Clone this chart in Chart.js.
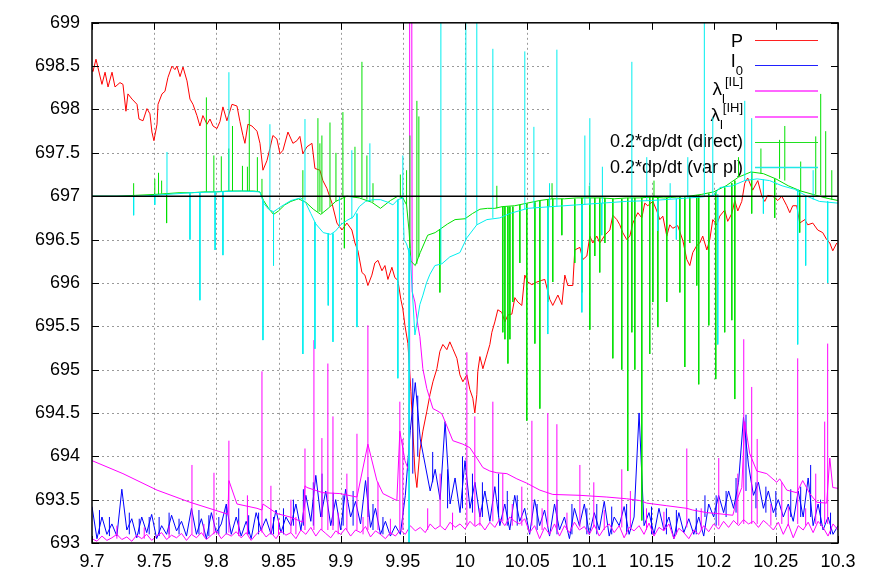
<!DOCTYPE html>
<html><head><meta charset="utf-8">
<script src="https://cdn.jsdelivr.net/npm/chart.js@4/dist/chart.umd.min.js"></script>
<style>html,body{margin:0;padding:0;background:#fff}canvas{display:block}</style>
</head><body>
<canvas id="c" width="872" height="580"></canvas>
<script>
// ---------- axis ticks ----------
const xTickValues = [9.7,9.75,9.8,9.85,9.9,9.95,10,10.05,10.1,10.15,10.2,10.25,10.3];
const xTickLabels = ['9.7','9.75','9.8','9.85','9.9','9.95','10','10.05','10.1','10.15','10.2','10.25','10.3'];
const yTickValues = [693,693.5,694,694.5,695,695.5,696,696.5,697,697.5,698,698.5,699];
const yTickLabels = ['693','693.5','694','694.5','695','695.5','696','696.5','697','697.5','698','698.5','699'];

// ---------- series names ----------
const seriesNames = ['P','I0','λl[IL]','λl[IH]','0.2*dp/dt (direct)','0.2*dp/dt (var pl)'];

// ---------- P (red) [x, P] ----------
const pressure = [[9.7000,698.45],[9.7008,698.44],[9.7032,698.58],[9.7080,698.29],[9.7105,698.43],[9.7129,698.26],[9.7161,698.43],[9.7185,698.26],[9.7225,698.31],[9.7249,698.29],
[9.7273,697.98],[9.7289,698.18],[9.7322,698.12],[9.7362,698.06],[9.7378,697.89],[9.7410,697.87],[9.7442,698.01],[9.7466,697.95],[9.7482,697.74],[9.7498,697.64],
[9.7523,697.83],[9.7531,698.06],[9.7563,698.18],[9.7587,698.21],[9.7611,698.37],[9.7643,698.50],[9.7667,698.46],[9.7683,698.50],[9.7708,698.38],[9.7732,698.49],
[9.7764,698.33],[9.7788,698.12],[9.7812,698.06],[9.7844,697.93],[9.7868,697.81],[9.7892,697.93],[9.7925,697.83],[9.7949,697.89],[9.7973,697.81],[9.8005,697.78],
[9.8029,697.86],[9.8053,698.03],[9.8085,697.87],[9.8126,698.06],[9.8166,698.04],[9.8190,697.86],[9.8214,697.70],[9.8230,697.61],[9.8254,697.83],[9.8286,697.81],
[9.8327,697.75],[9.8351,697.61],[9.8375,697.30],[9.8407,697.41],[9.8431,697.55],[9.8455,697.70],[9.8487,697.66],[9.8512,697.49],[9.8536,697.53],[9.8576,697.74],
[9.8616,697.61],[9.8648,697.64],[9.8672,697.69],[9.8696,697.49],[9.8729,697.57],[9.8769,697.61],[9.8793,697.32],[9.8833,697.30],[9.8857,697.18],[9.8889,697.09],
[9.8930,696.92],[9.8970,696.69],[9.9010,696.61],[9.9050,696.69],[9.9090,696.61],[9.9115,696.46],[9.9139,696.37],[9.9171,696.12],[9.9195,696.09],[9.9219,695.97],
[9.9251,696.09],[9.9275,696.23],[9.9300,696.26],[9.9332,696.14],[9.9356,696.20],[9.9380,696.04],[9.9412,696.18],[9.9436,696.06],[9.9460,696.03],[9.9484,695.81],
[9.9500,695.70],[9.9517,695.51],[9.9541,695.30],[9.9565,694.75],[9.9581,694.29],[9.9597,693.83],[9.9613,693.64],[9.9637,694.06],[9.9661,694.29],[9.9693,694.52],
[9.9718,694.71],[9.9742,694.86],[9.9774,695.01],[9.9798,695.21],[9.9822,695.29],[9.9854,695.23],[9.9878,695.32],[9.9902,695.24],[9.9935,695.13],[9.9959,694.94],
[9.9983,694.86],[10.0015,694.94],[10.0039,694.77],[10.0063,694.67],[10.0079,694.50],[10.0095,694.71],[10.0103,694.98],[10.0120,695.15],[10.0144,695.01],[10.0176,695.17],
[10.0200,695.29],[10.0216,695.43],[10.0240,695.55],[10.0264,695.69],[10.0296,695.66],[10.0321,695.55],[10.0345,695.63],[10.0377,695.64],[10.0401,695.83],[10.0425,695.78],
[10.0457,695.74],[10.0481,696.09],[10.0505,696.01],[10.0538,695.98],[10.0578,696.01],[10.0618,696.03],[10.0642,696.04],[10.0682,695.81],[10.0706,695.74],[10.0747,695.86],
[10.0779,695.75],[10.0803,696.09],[10.0827,695.97],[10.0867,695.97],[10.0883,696.38],[10.0924,696.41],[10.0948,696.27],[10.0980,696.31],[10.1004,696.54],[10.1028,696.46],
[10.1060,696.54],[10.1084,696.46],[10.1125,696.55],[10.1165,696.61],[10.1189,696.78],[10.1221,696.73],[10.1245,696.67],[10.1269,696.58],[10.1301,696.50],[10.1326,696.54],
[10.1350,696.69],[10.1390,696.81],[10.1422,696.75],[10.1446,696.92],[10.1470,696.89],[10.1511,696.94],[10.1543,696.83],[10.1567,696.73],[10.1591,696.77],[10.1623,696.54],
[10.1647,696.67],[10.1671,696.63],[10.1711,696.66],[10.1752,696.49],[10.1784,696.27],[10.1808,696.20],[10.1832,696.35],[10.1864,696.43],[10.1888,696.46],[10.1912,696.54],
[10.1945,696.38],[10.1969,696.50],[10.1993,696.73],[10.2025,696.67],[10.2049,696.77],[10.2089,696.84],[10.2113,696.71],[10.2146,696.80],[10.2170,696.95],[10.2194,696.83],
[10.2226,696.94],[10.2250,697.15],[10.2274,697.21],[10.2314,697.07],[10.2355,697.18],[10.2387,697.00],[10.2411,696.94],[10.2435,697.01],[10.2475,697.00],[10.2516,696.95],
[10.2548,697.00],[10.2588,696.89],[10.2612,696.81],[10.2636,696.89],[10.2668,696.89],[10.2692,696.69],[10.2733,696.73],[10.2757,696.67],[10.2797,696.69],[10.2837,696.61],
[10.2877,696.58],[10.2909,696.50],[10.2934,696.46],[10.2958,696.37],[10.2990,696.46]];

// ---------- sample grid for the noisy series ----------
const sampleX = [9.700,9.704,9.708,9.712,9.716,9.720,9.724,9.728,9.732,9.736,
9.740,9.744,9.748,9.752,9.756,9.760,9.764,9.768,9.772,9.776,
9.780,9.784,9.788,9.792,9.796,9.800,9.804,9.808,9.812,9.816,
9.820,9.824,9.828,9.832,9.836,9.840,9.844,9.848,9.852,9.856,
9.860,9.864,9.868,9.872,9.876,9.880,9.884,9.888,9.892,9.896,
9.900,9.904,9.908,9.912,9.916,9.920,9.924,9.928,9.932,9.936,
9.940,9.944,9.948,9.952,9.956,9.960,9.964,9.968,9.972,9.976,
9.980,9.984,9.988,9.992,9.996,10.000,10.004,10.008,10.012,10.016,
10.020,10.024,10.028,10.032,10.036,10.040,10.044,10.048,10.052,10.056,
10.060,10.064,10.068,10.072,10.076,10.080,10.084,10.088,10.092,10.096,
10.100,10.104,10.108,10.112,10.116,10.120,10.124,10.128,10.132,10.136,
10.140,10.144,10.148,10.152,10.156,10.160,10.164,10.168,10.172,10.176,
10.180,10.184,10.188,10.192,10.196,10.200,10.204,10.208,10.212,10.216,
10.220,10.224,10.228,10.232,10.236,10.240,10.244,10.248,10.252,10.256,
10.260,10.264,10.268,10.272,10.276,10.280,10.284,10.288,10.292,10.296,
10.300];

// ---------- I0 (blue) on sampleX ----------
const i0Values = [693.42,693.05,693.30,693.10,693.22,693.08,693.62,693.15,693.28,693.06,
693.30,693.12,693.33,693.05,693.20,693.10,693.32,693.14,693.25,693.08,
693.40,693.10,693.28,693.05,693.35,693.12,693.22,693.45,693.10,693.30,
693.08,693.25,693.05,693.35,693.15,693.28,693.10,693.38,693.12,693.30,
693.20,693.45,693.15,693.55,693.25,693.78,693.30,693.60,693.20,693.50,
693.15,693.62,693.30,693.48,693.22,693.72,693.18,693.40,693.10,693.25,
693.08,693.20,693.10,693.55,694.30,694.85,694.20,693.90,693.60,693.85,
693.50,694.40,693.45,693.75,693.35,693.95,693.40,693.70,693.30,693.60,
693.25,693.65,693.20,693.45,693.15,693.55,693.25,693.40,693.10,693.50,
693.20,693.38,693.08,693.45,693.15,693.30,693.05,693.40,693.20,693.45,
693.10,693.35,693.15,693.48,693.08,693.30,693.20,693.42,693.10,693.30,
694.50,693.20,693.35,693.10,693.40,693.15,693.30,693.05,693.35,693.12,
693.28,693.10,693.30,693.08,693.45,693.30,693.55,693.35,693.60,693.40,
693.70,694.45,693.90,693.55,693.70,693.40,693.60,693.35,693.50,693.30,
693.45,693.25,693.60,693.30,693.75,693.20,693.45,693.15,693.30,693.10,
693.20];
// I0 peaks [x, from, to]
const i0Peaks = [[9.7060,693.10,693.38],[9.7140,693.08,693.30],[9.7300,693.10,693.35],[9.7380,693.10,693.28],[9.7460,693.10,693.30],[9.7540,693.08,693.30],
[9.7620,693.10,693.35],[9.7700,693.10,693.28],[9.7860,693.10,693.38],[9.7940,693.08,693.32],[9.8020,693.10,693.30],[9.8080,693.10,693.42],[9.8180,693.10,693.40],
[9.8260,693.10,693.32],[9.8340,693.10,693.35],[9.8460,693.10,693.30],[9.8540,693.10,693.40],[9.8620,693.20,693.50],[9.8700,693.20,693.62],[9.8780,693.20,693.70],
[9.8850,693.30,693.80],[9.8940,693.20,693.58],[9.9020,693.20,693.55],[9.9100,693.20,693.60],[9.9220,693.30,693.76],[9.9260,693.15,693.45],[9.9340,693.10,693.30],
[9.9580,693.80,694.90],[9.9620,694.00,694.70],[9.9740,693.70,694.05],[9.9860,693.40,693.85],[9.9980,693.40,694.00],[10.0060,693.35,693.80],[10.0140,693.30,693.70],
[10.0270,693.30,693.80],[10.0340,693.20,693.60],[10.0420,693.20,693.55],[10.0580,693.15,693.45],[10.0740,693.10,693.50],[10.0860,693.10,693.45],[10.0980,693.10,693.40],
[10.1060,693.10,693.45],[10.1180,693.10,693.42],[10.1300,693.10,693.45],[10.1500,693.10,693.42],[10.1620,693.10,693.40],[10.1700,693.10,693.38],[10.1860,693.10,693.40],
[10.1930,693.30,693.55],[10.2020,693.20,693.55],[10.2100,693.30,693.60],[10.2180,693.35,693.75],[10.2260,693.60,694.48],[10.2340,693.40,693.70],[10.2420,693.35,693.65],
[10.2500,693.30,693.60],[10.2620,693.30,693.62],[10.2700,693.30,693.65],[10.2780,693.30,693.90],[10.2860,693.20,693.50],[10.2940,693.10,693.35]];

// ---------- lambda_l^[IL] (magenta, noisy) on sampleX ----------
const lamILValues = [693.05,693.02,693.08,693.03,693.06,693.10,693.04,693.07,693.02,693.09,
693.05,693.10,693.03,693.08,693.12,693.04,693.09,693.06,693.11,693.03,
693.10,693.06,693.12,693.04,693.09,693.14,693.05,693.11,693.08,693.13,
693.06,693.12,693.03,693.10,693.15,693.07,693.12,693.05,693.14,693.09,
693.12,693.05,693.15,693.10,693.18,693.08,693.16,693.11,693.06,693.14,
693.10,693.17,693.08,693.15,693.12,693.19,693.07,693.14,693.10,693.05,
693.12,693.08,693.15,693.10,693.20,693.14,693.18,693.12,693.22,693.16,
693.20,693.15,693.24,693.18,693.22,693.16,693.25,693.19,693.23,693.15,
693.24,693.18,693.28,693.20,693.30,693.25,693.22,693.28,693.12,693.20,
693.05,693.18,693.10,693.22,693.08,693.20,693.12,693.24,693.15,693.19,
693.10,693.21,693.08,693.17,693.22,693.12,693.20,693.06,693.18,693.14,
693.20,693.10,693.23,693.08,693.18,693.14,693.22,693.05,693.17,693.12,
693.05,693.15,693.10,693.20,693.13,693.22,693.16,693.25,693.18,693.26,
693.20,693.27,693.22,693.25,693.18,693.26,693.21,693.15,693.24,693.10,
693.22,693.06,693.20,693.15,693.24,693.12,693.25,693.18,693.08,693.22,
693.15];
// lambda_l^[IL] peaks [x, from, to]
const lamILPeaks = [[9.7200,693.05,693.20],[9.7420,693.05,693.18],[9.7620,693.06,693.20],[9.7900,693.08,693.22],[9.8180,693.08,693.25],[9.8500,693.10,693.28],
[9.8640,693.10,693.30],[9.8980,693.10,693.35],[9.9180,693.10,693.30],[9.9400,693.10,693.28],[9.9700,693.15,693.40],[9.9900,693.15,693.35],[10.0120,693.20,693.40],
[10.0380,693.20,693.45],[10.0620,693.15,693.40],[10.0820,693.15,693.35],[10.1120,693.15,693.38],[10.1460,693.15,693.40],[10.1600,693.15,693.36],[10.1900,693.15,693.40],
[10.2460,693.20,693.45],[10.2600,693.20,693.42],[10.2740,693.20,693.40],
[9.7804,693.10,693.90],[9.7981,693.10,693.81],[9.8101,693.12,694.18],[9.8250,693.10,693.55],[9.8367,693.12,694.98],
[9.8439,693.12,693.66],[9.8600,693.12,693.50],[9.8713,693.15,694.09],[9.8785,693.15,695.34],[9.8849,693.15,694.21],[9.8897,693.15,695.07],
[9.8938,693.15,694.46],[9.9050,693.15,693.80],[9.9131,693.15,694.26],[9.9219,693.15,695.51],[9.9300,693.15,693.70],[9.9476,693.15,694.63],
[9.9500,693.15,694.20],[9.9800,693.20,693.80],[10.0015,693.20,695.20],[10.0079,693.20,694.46],[10.0224,693.25,694.63],[10.0304,693.25,693.80],
[10.0457,693.20,693.65],[10.0538,693.20,694.41],[10.0666,693.18,694.50],[10.0739,693.18,694.37],[10.0924,693.18,693.90],[10.1036,693.18,693.70],
[10.1261,693.18,693.85],[10.1330,693.18,693.60],[10.1784,693.18,694.09],[10.2041,693.20,693.98],[10.2194,693.22,693.80],[10.2242,693.22,695.35],
[10.2306,693.22,694.80],[10.2350,693.22,694.20],[10.2548,693.22,693.70],[10.2676,693.22,695.13],[10.2821,693.22,693.80],[10.2893,693.22,694.40],
[10.2917,693.22,695.30]];

// ---------- lambda_l^[IH] (magenta envelope) [x, value] ----------
const lamIH = [[9.7000,693.95],[9.7249,693.80],[9.7523,693.61],[9.7788,693.47],[9.8053,693.35],[9.8093,693.33],[9.8101,693.72],[9.8166,693.45],
[9.8327,693.40],[9.8367,693.38],[9.8375,693.45],[9.8487,693.34],[9.8592,693.30],[9.8696,693.24],[9.8713,693.66],[9.8729,693.64],[9.8857,693.58],
[9.8994,693.57],[9.9131,693.53],[9.9219,694.14],[9.9291,693.72],[9.9340,693.57],[9.9452,693.49],[9.9476,694.29],[9.9517,693.95],[9.9549,693.83],
[9.9552,694.60],[9.9555,699.20],[9.9572,699.20],[9.9575,695.90],[9.9597,695.78],[9.9621,695.51],[9.9637,695.38],[9.9661,695.01],[9.9693,694.78],
[9.9742,694.55],[9.9782,694.52],[9.9814,694.49],[9.9854,694.35],[9.9902,694.18],[9.9983,694.14],[10.0039,694.10],[10.0095,693.98],[10.0144,693.87],
[10.0200,693.83],[10.0256,693.81],[10.0337,693.80],[10.0417,693.74],[10.0497,693.69],[10.0602,693.61],[10.0706,693.56],[10.0924,693.55],[10.1141,693.53],
[10.1301,693.51],[10.1406,693.49],[10.1462,693.46],[10.1623,693.43],[10.1784,693.40],[10.1832,693.38],[10.1945,693.35],[10.2025,693.34],[10.2154,693.32],
[10.2186,693.49],[10.2226,693.64],[10.2250,694.40],[10.2290,694.03],[10.2347,693.83],[10.2427,693.80],[10.2507,693.70],[10.2531,693.74],[10.2588,693.61],
[10.2668,693.58],[10.2716,693.72],[10.2773,693.57],[10.2829,693.47],[10.2909,693.46],[10.2934,693.98],[10.2958,693.64],[10.3000,693.63]];

// ---------- 0.2*dp/dt direct (green) ----------
const dpDirect = [[9.700,697.00],[9.720,697.00],[9.735,697.01],[9.750,697.02],[9.760,697.03],[9.770,697.04],[9.780,697.04],[9.790,697.05],[9.800,697.05],
[9.810,697.06],[9.820,697.06],[9.830,697.06],[9.835,697.05],[9.838,696.95],[9.842,696.86],[9.846,696.79],[9.850,696.83],[9.855,696.90],[9.860,696.94],
[9.866,696.97],[9.872,696.93],[9.878,696.85],[9.884,696.79],[9.890,696.86],[9.896,696.94],[9.905,697.00],[9.915,696.98],[9.925,696.93],[9.932,696.86],
[9.940,696.95],[9.946,697.00],[9.950,696.98],[9.953,696.90],[9.955,696.60],[9.9565,696.25],[9.960,696.20],[9.964,696.35],[9.970,696.55],[9.976,696.58],
[9.980,696.62],[9.986,696.68],[9.992,696.73],[10.000,696.74],[10.006,696.80],[10.012,696.85],[10.018,696.86],[10.024,696.86],[10.030,696.88],[10.040,696.89],
[10.050,696.92],[10.060,696.95],[10.070,696.97],[10.080,696.97],[10.090,696.98],[10.100,696.98],[10.110,696.98],[10.120,696.97],[10.130,696.98],[10.140,696.98],
[10.150,696.99],[10.160,696.98],[10.170,696.99],[10.180,697.00],[10.190,697.02],[10.200,697.05],[10.210,697.12],[10.220,697.22],[10.230,697.28],[10.240,697.26],
[10.250,697.20],[10.260,697.12],[10.270,697.06],[10.280,697.02],[10.290,696.98],[10.300,696.95]];
const dpDirectPeaks = [[9.7335,697.01,697.15],[9.7505,697.02,697.20],[9.7535,697.02,697.27],[9.7560,697.03,697.18],[9.7600,697.03,696.69],[9.7920,697.05,698.14],
[9.7980,697.05,697.47],[9.8040,697.05,697.46],[9.8100,697.06,697.55],[9.8130,697.06,697.81],[9.8210,697.06,697.35],[9.8250,697.06,697.34],[9.8265,697.06,698.00],
[9.8330,697.06,697.45],[9.8367,697.00,697.20],[9.8696,696.96,697.30],[9.8817,696.82,697.90],[9.8833,696.82,697.61],[9.8849,696.80,697.70],[9.8914,696.88,697.85],
[9.8962,696.94,697.50],[9.9018,697.00,697.97],[9.9030,697.00,696.40],[9.9115,696.99,697.57],[9.9171,696.98,698.55],[9.9211,696.96,697.47],[9.9260,696.93,697.15],
[9.9480,697.00,697.25],[9.9530,696.90,697.30],[9.9557,696.40,697.70],[9.9613,696.22,698.10],[9.9629,696.30,697.92],[9.9798,696.62,695.89],[10.0256,696.86,697.12],
[10.0304,696.88,695.43],[10.0321,696.88,695.35],[10.0345,696.88,695.07],[10.0361,696.88,695.35],[10.0385,696.88,695.78],[10.0441,696.90,696.23],[10.0497,696.91,694.41],
[10.0562,696.93,695.30],[10.0602,696.95,694.55],[10.0666,696.96,695.78],[10.0706,696.97,696.01],[10.0779,696.97,696.55],[10.0883,696.97,696.23],[10.0940,696.98,695.89],
[10.1004,696.98,695.46],[10.1044,696.98,696.31],[10.1084,696.98,696.12],[10.1125,696.98,696.46],[10.1189,696.97,695.13],[10.1261,696.97,695.00],[10.1309,696.98,693.83],
[10.1342,696.98,695.43],[10.1366,696.98,695.00],[10.1422,696.98,693.26],[10.1486,696.99,695.18],[10.1511,696.99,695.78],[10.1551,696.98,695.49],[10.1623,696.98,695.78],
[10.1728,696.99,695.89],[10.1768,696.99,695.03],[10.1808,697.00,696.46],[10.1864,697.01,695.97],[10.1880,697.01,694.83],[10.1961,697.03,695.51],[10.2017,697.05,694.89],
[10.2089,697.10,695.43],[10.2146,697.15,695.57],[10.2170,697.18,694.66],[10.2306,697.28,696.80],[10.2491,697.20,696.75],[10.2692,697.06,696.58],
[10.0700,696.97,697.15],[10.1000,696.98,697.12],[10.1520,696.99,697.18],[10.2200,697.22,697.45],[10.2380,697.26,697.55],[10.2530,697.20,697.65],[10.2572,697.18,697.81],
[10.2700,697.06,697.40],[10.2821,697.02,697.69],[10.2861,697.01,698.18],[10.2901,696.98,697.75],[10.2950,696.96,697.30]];

// ---------- 0.2*dp/dt var pl (cyan) ----------
const dpVarPl = [[9.700,697.00],[9.740,697.00],[9.760,697.02],[9.780,697.04],[9.800,697.05],[9.820,697.06],[9.835,697.05],[9.838,696.92],[9.842,696.85],
[9.846,696.82],[9.852,696.88],[9.860,696.95],[9.868,696.98],[9.872,696.92],[9.876,696.80],[9.880,696.68],[9.886,696.58],[9.892,696.56],[9.896,696.60],
[9.900,696.67],[9.905,696.72],[9.910,696.76],[9.915,696.88],[9.920,696.94],[9.926,696.96],[9.932,696.96],[9.938,696.93],[9.942,696.90],[9.946,696.96],
[9.950,696.98],[9.951,696.50],[9.953,696.45],[9.956,696.30],[9.9597,695.40],[9.9637,695.75],[9.966,695.85],[9.969,696.00],[9.9718,696.10],[9.9758,696.20],
[9.9814,696.22],[9.9878,696.30],[9.9959,696.35],[10.0015,696.52],[10.0095,696.67],[10.0176,696.73],[10.028,696.75],[10.036,696.80],[10.0505,696.86],
[10.070,696.88],[10.090,696.90],[10.110,696.92],[10.130,696.94],[10.150,696.95],[10.170,696.97],[10.190,696.99],[10.200,697.01],[10.205,697.10],
[10.215,697.12],[10.225,697.18],[10.235,697.20],[10.245,697.18],[10.255,697.12],[10.265,697.08],[10.275,697.00],[10.285,696.94],[10.300,696.92]];
const dpVarPlPeaks = [[9.7335,697.00,696.78],[9.7505,697.02,696.90],[9.7603,697.03,697.51],[9.7788,697.04,696.50],[9.7868,697.04,695.80],[9.7990,697.05,696.38],
[9.8053,697.05,696.32],[9.8101,697.06,698.43],[9.8375,696.95,695.34],[9.8431,696.85,697.83],[9.8460,696.82,696.20],[9.8696,696.95,695.18],[9.8713,696.95,697.89],
[9.8793,696.70,695.24],[9.8900,696.57,695.74],[9.8938,696.57,695.32],[9.8990,696.65,697.00],[9.9090,696.74,697.53],[9.9131,696.80,695.49],[9.9235,696.94,697.61],
[9.9460,696.96,694.90],[9.9500,696.98,697.47],[9.9550,696.40,693.00],[9.9806,696.22,699.20],[10.0007,696.50,699.20],[10.0095,696.67,699.20],[10.0224,696.75,698.70],
[10.0481,696.85,698.67],[10.0554,696.86,697.80],[10.0666,696.88,695.41],[10.0680,696.88,697.15],[10.0739,696.88,698.69],[10.0940,696.90,695.66],[10.0964,696.90,697.70],
[10.1004,696.90,697.90],[10.1100,696.92,696.55],[10.1105,696.92,697.34],[10.1342,696.94,698.55],[10.1462,696.95,697.45],[10.1550,696.96,696.60],[10.1650,696.97,697.15],
[10.1700,696.97,696.50],[10.1792,696.98,697.45],[10.1925,696.99,699.20],[10.1993,697.00,697.91],[10.2033,697.02,695.29],[10.2250,697.18,698.10],[10.2306,697.20,697.90],
[10.2400,697.19,696.80],[10.2676,697.08,695.29],[10.2740,697.00,696.20],[10.2800,696.96,697.30],[10.2917,696.94,696.00]];

// ---------- reference level ----------
const refLine = [[9.7,697],[10.3,697]];

// ---------- helpers ----------
const FONT = "'Liberation Sans', Arial, Helvetica, sans-serif";
function fromPairs(p){ return p.map(v => ({x:v[0], y:v[1]})); }
function fromGrid(xs, ys){ const n = Math.min(xs.length, ys.length); const o = []; for (let i=0;i<n;i++) o.push({x:xs[i], y:ys[i]}); return o; }
function fromPeaks(s){ const o=[]; s.forEach(v => { o.push({x:v[0],y:v[1]}); o.push({x:v[0],y:v[2]}); o.push({x:v[0],y:null}); }); return o; }

const C_RED='#ff0000', C_BLUE='#0000ff', C_MAG='#ff00ff', C_GRN='#00e000', C_CYN='#00eeee';
function ds(data, color, order, extra){ return Object.assign({data, borderColor:color, backgroundColor:color, borderWidth:1, pointRadius:0, tension:0, fill:false, spanGaps:false, order}, extra||{}); }

const datasets = [
  ds(fromPairs(refLine), '#000000', 0, {borderWidth:1.6}),
  ds(fromPeaks(dpVarPlPeaks), C_CYN, 1),
  ds(fromPairs(dpVarPl), C_CYN, 1),
  ds(fromPeaks(dpDirectPeaks), C_GRN, 2),
  ds(fromPairs(dpDirect), C_GRN, 2),
  ds(fromPairs(lamIH), C_MAG, 3),
  ds(fromPeaks(lamILPeaks), C_MAG, 4),
  ds(fromGrid(sampleX, lamILValues), C_MAG, 4),
  ds(fromPeaks(i0Peaks), C_BLUE, 5),
  ds(fromGrid(sampleX, i0Values), C_BLUE, 5),
  ds(fromPairs(pressure), C_RED, 6)
];

// legend rich-text: [text, size, baselineOffset]
const legendRows = [
  {y:40,  color:'#ff2020', w:1, parts:[[seriesNames[0],18,6.5]]},
  {y:65,  color:'#2020ff', w:1, parts:[['I',18,2],['0',13,10]]},
  {y:91,  color:'#ff66ff', w:2, parts:[['λ',19,4],['l',13,12],['[IL]',13,-5]]},
  {y:116.5,color:'#ff66ff', w:2, parts:[['λ',19,4],['l',13,12],['[IH]',13,-5]]},
  {y:142, color:'#20e020', w:1, parts:[[seriesNames[4],18,5]]},
  {y:167, color:'#20e8e8', w:1.5, parts:[[seriesNames[5],18,5.5]]}
];

const gnuPlugin = {
  id:'gnu',
  beforeDatasetsDraw(chart){
    const {ctx, chartArea:a, scales} = chart;
    const xs = scales.x, ys = scales.y;
    ctx.save();
    ctx.beginPath();
    ctx.rect(a.left, a.top, a.right-a.left, a.bottom-a.top);
    ctx.rect(550, a.top, a.right-550, 180-a.top);
    ctx.clip('evenodd');
    ctx.strokeStyle='#9a9a9a'; ctx.lineWidth=1; ctx.setLineDash([2,3]);
    xTickValues.forEach(v => { if (v<=9.7 || v>=10.3) return; const px=Math.round(xs.getPixelForValue(v))+0.5; ctx.beginPath(); ctx.moveTo(px,a.top); ctx.lineTo(px,a.bottom); ctx.stroke(); });
    yTickValues.forEach(v => { if (v<=693 || v>=699) return; const py=Math.round(ys.getPixelForValue(v))+0.5; ctx.beginPath(); ctx.moveTo(a.left,py); ctx.lineTo(a.right,py); ctx.stroke(); });
    ctx.restore();
    // key text (under the data, as in the original)
    ctx.save();
    ctx.fillStyle='#000'; ctx.textBaseline='alphabetic'; ctx.textAlign='left';
    const right = 743;
    legendRows.forEach(r => {
      let total=0;
      r.parts.forEach(p => { ctx.font = p[1]+'px '+FONT; total += ctx.measureText(p[0]).width; });
      let x = right - total;
      r.parts.forEach(p => { ctx.font = p[1]+'px '+FONT; ctx.fillText(p[0], x, r.y + p[2]); x += ctx.measureText(p[0]).width; });
    });
    ctx.restore();
  },
  afterDatasetsDraw(chart){
    const {ctx, chartArea:a, scales} = chart;
    const xs = scales.x, ys = scales.y;
    ctx.save();
    legendRows.forEach(r => {
      ctx.strokeStyle=r.color; ctx.lineWidth=r.w;
      const yy = r.w >= 2 ? Math.round(r.y) : Math.round(r.y)+0.5;
      ctx.beginPath(); ctx.moveTo(755, yy); ctx.lineTo(818, yy); ctx.stroke();
    });
    ctx.strokeStyle='#000'; ctx.lineWidth=1;
    const L=7;
    xTickValues.forEach(v => { const px=Math.round(xs.getPixelForValue(v))+0.5; ctx.beginPath(); ctx.moveTo(px,a.bottom); ctx.lineTo(px,a.bottom-L); ctx.moveTo(px,a.top); ctx.lineTo(px,a.top+L); ctx.stroke(); });
    yTickValues.forEach(v => { const py=Math.round(ys.getPixelForValue(v))+0.5; ctx.beginPath(); ctx.moveTo(a.left,py); ctx.lineTo(a.left+L,py); ctx.moveTo(a.right,py); ctx.lineTo(a.right-L,py); ctx.stroke(); });
    ctx.lineWidth=1.5;
    ctx.strokeRect(a.left, a.top, a.right-a.left, a.bottom-a.top);
    ctx.restore();
  }
};

new Chart(document.getElementById('c'), {
  type:'line',
  data:{datasets},
  options:{
    responsive:false, animation:false, devicePixelRatio:1,
    layout:{padding:{top:18, right:34, left:0, bottom:0}},
    plugins:{legend:{display:false}, tooltip:{enabled:false}},
    elements:{line:{borderCapStyle:'butt'}},
    scales:{
      x:{type:'linear', min:9.7, max:10.3,
         afterBuildTicks:s => { s.ticks = xTickValues.map(v => ({value:v})); },
         afterFit:s => { s.height = 37; },
         grid:{display:false, drawTicks:false}, border:{display:false},
         ticks:{callback:(v,i) => xTickLabels[i], color:'#000', font:{family:FONT, size:18}, padding:8, maxRotation:0, autoSkip:false}},
      y:{type:'linear', min:693, max:699,
         afterBuildTicks:s => { s.ticks = yTickValues.map(v => ({value:v})); },
         afterFit:s => { s.width = 92; },
         grid:{display:false, drawTicks:false}, border:{display:false},
         ticks:{callback:(v,i) => yTickLabels[i], color:'#000', font:{family:FONT, size:18}, padding:12, autoSkip:false}}
    }
  },
  plugins:[gnuPlugin]
});
</script>
</body></html>
